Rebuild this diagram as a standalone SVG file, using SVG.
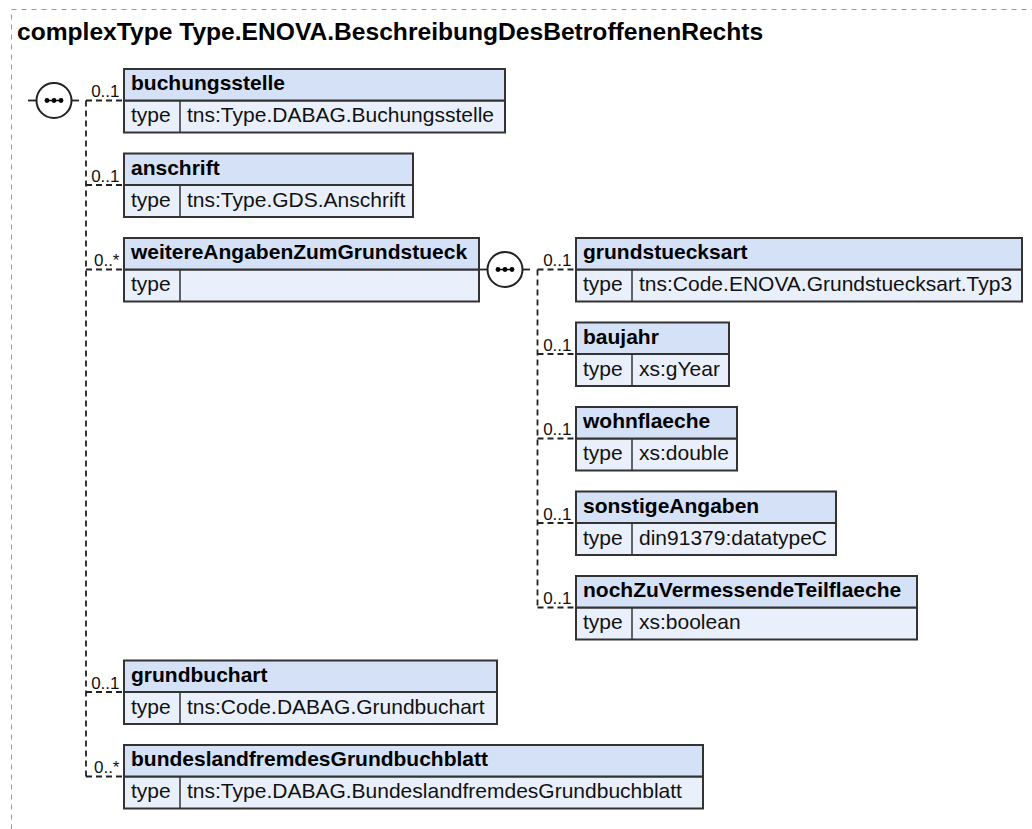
<svg xmlns="http://www.w3.org/2000/svg" width="1032" height="829" viewBox="0 0 1032 829">
<defs>
<style>
.frame{fill:none;stroke:#999;stroke-width:1;stroke-dasharray:5,5}
.title{font-family:"Liberation Sans",Arial,sans-serif;font-weight:bold;font-size:24.6px;fill:#000}
.hd{fill:#d5e1f7;stroke:#333;stroke-width:2}
.tr{fill:#eaf0fb;stroke:#333;stroke-width:2}
.dv{stroke:#333;stroke-width:1.5}
.nm{font-family:"Liberation Sans",Arial,sans-serif;font-weight:bold;font-size:21px;fill:#000}
.tx{font-family:"Liberation Sans",Arial,sans-serif;font-size:21px;fill:#111}
.mul{font-family:"Liberation Sans",Arial,sans-serif;font-size:17px;fill:#111;text-anchor:end}
.dash{fill:none;stroke:#222;stroke-width:1.8;stroke-dasharray:6,4}
.solid{fill:none;stroke:#222;stroke-width:1.8}
.seq{fill:#fff;stroke:#222;stroke-width:2}
.dot{fill:#000}
</style>
<g id="seqsym">
<circle class="seq" cx="0" cy="0" r="17.5"/>
<line x1="-8" y1="0" x2="8" y2="0" stroke="#000" stroke-width="1.5"/>
<circle class="dot" cx="-7" cy="0" r="2.4"/>
<circle class="dot" cx="0" cy="0" r="2.4"/>
<circle class="dot" cx="7" cy="0" r="2.4"/>
</g>
</defs>
<rect class="frame" x="11.5" y="9.5" width="1040" height="840"/>
<text class="title" x="17" y="39.5">complexType Type.ENOVA.BeschreibungDesBetroffenenRechts</text>

<g id="connectors">
<line class="solid" x1="28" y1="100.5" x2="36.5" y2="100.5"/>
<line class="solid" x1="71.5" y1="100.5" x2="79" y2="100.5"/>
<path class="dash" d="M86 100.5 H124"/>
<path class="dash" d="M86 100.5 V776.5"/>
<path class="dash" d="M86 185 H124"/>
<path class="dash" d="M86 269.5 H124"/>
<path class="dash" d="M86 692 H124"/>
<path class="dash" d="M86 776.5 H124"/>
<line class="solid" x1="479" y1="269.5" x2="487.5" y2="269.5"/>
<line class="solid" x1="522.5" y1="269.5" x2="530" y2="269.5"/>
<path class="dash" d="M537.5 269.5 H576"/>
<path class="dash" d="M537.5 269.5 V607.5"/>
<path class="dash" d="M537.5 354 H576"/>
<path class="dash" d="M537.5 438.5 H576"/>
<path class="dash" d="M537.5 523 H576"/>
<path class="dash" d="M537.5 607.5 H576"/>
<text class="mul" x="119.5" y="97">0..1</text>
<text class="mul" x="119.5" y="181.5">0..1</text>
<text class="mul" x="119.5" y="266">0..*</text>
<text class="mul" x="119.5" y="688.5">0..1</text>
<text class="mul" x="119.5" y="773">0..*</text>
<text class="mul" x="571.5" y="266">0..1</text>
<text class="mul" x="571.5" y="350.5">0..1</text>
<text class="mul" x="571.5" y="435">0..1</text>
<text class="mul" x="571.5" y="519.5">0..1</text>
<text class="mul" x="571.5" y="604">0..1</text>
</g>

<g id="seq-root"><use href="#seqsym" x="54" y="100.5"/></g>
<g id="seq-weitere"><use href="#seqsym" x="505" y="269.5"/></g>

<g id="buchungsstelle">
<rect class="tr" x="124" y="100.5" width="381" height="32"/>
<rect class="hd" x="124" y="69" width="381" height="31.5"/>
<line class="dv" x1="180" y1="100.5" x2="180" y2="132.5"/>
<text class="nm" x="131" y="90">buchungsstelle</text>
<text class="tx" x="131" y="122">type</text>
<text class="tx" x="187" y="122">tns:Type.DABAG.Buchungsstelle</text>
</g>
<g id="anschrift">
<rect class="tr" x="124" y="185" width="289" height="32"/>
<rect class="hd" x="124" y="153.5" width="289" height="31.5"/>
<line class="dv" x1="180" y1="185" x2="180" y2="217"/>
<text class="nm" x="131" y="174.5">anschrift</text>
<text class="tx" x="131" y="206.5">type</text>
<text class="tx" x="187" y="206.5">tns:Type.GDS.Anschrift</text>
</g>
<g id="weitereAngabenZumGrundstueck">
<rect class="tr" x="124" y="269.5" width="355" height="32"/>
<rect class="hd" x="124" y="238" width="355" height="31.5"/>
<line class="dv" x1="180" y1="269.5" x2="180" y2="301.5"/>
<text class="nm" x="131" y="259">weitereAngabenZumGrundstueck</text>
<text class="tx" x="131" y="291">type</text>
</g>
<g id="grundstuecksart">
<rect class="tr" x="576" y="269.5" width="446" height="32"/>
<rect class="hd" x="576" y="238" width="446" height="31.5"/>
<line class="dv" x1="632" y1="269.5" x2="632" y2="301.5"/>
<text class="nm" x="583" y="259">grundstuecksart</text>
<text class="tx" x="583" y="291">type</text>
<text class="tx" x="639" y="291">tns:Code.ENOVA.Grundstuecksart.Typ3</text>
</g>
<g id="baujahr">
<rect class="tr" x="576" y="354" width="153" height="32"/>
<rect class="hd" x="576" y="322.5" width="153" height="31.5"/>
<line class="dv" x1="632" y1="354" x2="632" y2="386"/>
<text class="nm" x="583" y="343.5">baujahr</text>
<text class="tx" x="583" y="375.5">type</text>
<text class="tx" x="639" y="375.5">xs:gYear</text>
</g>
<g id="wohnflaeche">
<rect class="tr" x="576" y="438.5" width="161" height="32"/>
<rect class="hd" x="576" y="407" width="161" height="31.5"/>
<line class="dv" x1="632" y1="438.5" x2="632" y2="470.5"/>
<text class="nm" x="583" y="428">wohnflaeche</text>
<text class="tx" x="583" y="460">type</text>
<text class="tx" x="639" y="460">xs:double</text>
</g>
<g id="sonstigeAngaben">
<rect class="tr" x="576" y="523" width="260" height="32"/>
<rect class="hd" x="576" y="491.5" width="260" height="31.5"/>
<line class="dv" x1="632" y1="523" x2="632" y2="555"/>
<text class="nm" x="583" y="512.5">sonstigeAngaben</text>
<text class="tx" x="583" y="544.5">type</text>
<text class="tx" x="639" y="544.5">din91379:datatypeC</text>
</g>
<g id="nochZuVermessendeTeilflaeche">
<rect class="tr" x="576" y="607.5" width="341" height="32"/>
<rect class="hd" x="576" y="576" width="341" height="31.5"/>
<line class="dv" x1="632" y1="607.5" x2="632" y2="639.5"/>
<text class="nm" x="583" y="597">nochZuVermessendeTeilflaeche</text>
<text class="tx" x="583" y="629">type</text>
<text class="tx" x="639" y="629">xs:boolean</text>
</g>
<g id="grundbuchart">
<rect class="tr" x="124" y="692" width="373" height="32"/>
<rect class="hd" x="124" y="660.5" width="373" height="31.5"/>
<line class="dv" x1="180" y1="692" x2="180" y2="724"/>
<text class="nm" x="131" y="681.5">grundbuchart</text>
<text class="tx" x="131" y="713.5">type</text>
<text class="tx" x="187" y="713.5">tns:Code.DABAG.Grundbuchart</text>
</g>
<g id="bundeslandfremdesGrundbuchblatt">
<rect class="tr" x="124" y="776.5" width="579" height="32"/>
<rect class="hd" x="124" y="745" width="579" height="31.5"/>
<line class="dv" x1="180" y1="776.5" x2="180" y2="808.5"/>
<text class="nm" x="131" y="766">bundeslandfremdesGrundbuchblatt</text>
<text class="tx" x="131" y="798">type</text>
<text class="tx" x="187" y="798">tns:Type.DABAG.BundeslandfremdesGrundbuchblatt</text>
</g>
</svg>
